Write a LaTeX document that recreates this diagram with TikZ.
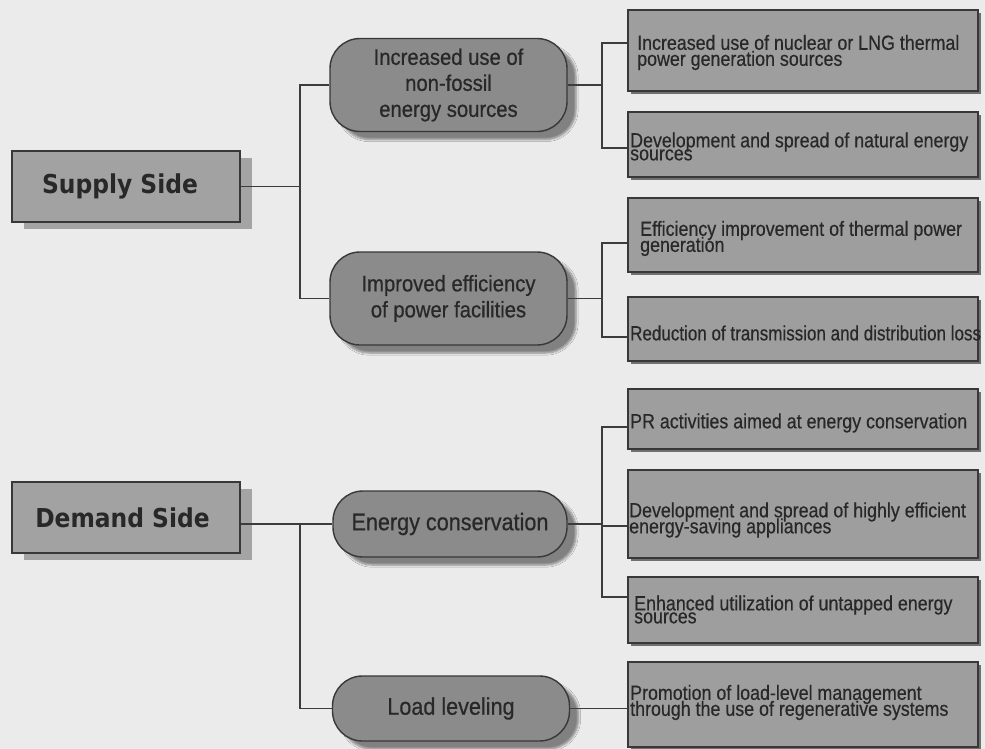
\documentclass[tikz,border=0pt]{standalone}
\usepackage{fontspec}
\setmainfont{Liberation Sans}
\newfontfamily\boxfont[FakeStretch=0.87,FakeBold=0.4]{Liberation Sans}
\newfontfamily\boxfontn[FakeStretch=0.83,FakeBold=0.4]{Liberation Sans}
\newfontfamily\pillfont[FakeStretch=0.9,FakeBold=0.6]{Liberation Sans}
\newfontfamily\headfont{DejaVu Sans Condensed}
\usetikzlibrary{shadows,shadows.blur}
% allow lines of multi-line labels to sit closer than their glyphs
\AtBeginDocument{\lineskiplimit=-100pt\relax}

\definecolor{bgc}{HTML}{EBEBEB}
\definecolor{boxfill}{HTML}{9E9E9E}
\definecolor{pillfill}{HTML}{8B8B8B}
\definecolor{sidefill}{HTML}{A2A2A2}
\definecolor{sideshadow}{HTML}{A4A4A4}
\definecolor{leafshadow}{HTML}{707070}
\definecolor{edgec}{HTML}{383838}
\definecolor{linec}{HTML}{3C3C3C}
\definecolor{textc}{HTML}{282828}

\begin{document}
\begin{tikzpicture}[x=1pt,y=-1pt,
  conn/.style={draw=linec, line width=1.3pt},
  sidebox/.style={draw=edgec, line width=1.4pt, fill=sidefill,
    minimum width=228pt, minimum height=71pt, inner sep=0pt, text=textc,
    font=\headfont\bfseries\fontsize{26}{30}\selectfont,
    drop shadow={shadow xshift=12pt, shadow yshift=-7pt, fill=sideshadow, opacity=1}},
  pill/.style={draw=edgec, line width=1.4pt, fill=pillfill, rounded corners=30pt,
    inner sep=0pt, align=center, text=textc,
    blur shadow={shadow xshift=9pt, shadow yshift=-8pt, shadow opacity=45, shadow blur steps=6}},
  leaf/.style={draw=edgec, line width=1.6pt, fill=boxfill, minimum width=350pt,
    inner sep=0pt,
    drop shadow={shadow xshift=3pt, shadow yshift=-3pt, fill=leafshadow, opacity=1}},
  leaftext/.style={anchor=west, inner sep=0pt, align=left, text=textc,
    font=\boxfont\fontsize{20.5}{16}\selectfont},
  tightleaf/.style={font=\boxfont\fontsize{20.5}{13}\selectfont},
  narrowleaf/.style={font=\boxfontn\fontsize{20.5}{16}\selectfont},
  pilltext/.style={font=\pillfont\fontsize{22.5}{26}\selectfont},
  pilltextb/.style={font=\pillfont\fontsize{24}{26}\selectfont},
]
% page and background
\useasboundingbox (0,0) rectangle (985,749);
\fill[bgc] (0,0) rectangle (985,749);

% top-level boxes
\node[sidebox] (sup) at (126,186.5) {Supply Side\hspace*{12pt}};
\node[sidebox] (dem) at (126,517.5) {Demand Side\hspace*{7pt}};

% measures (pills)
\node[pill, pilltext, minimum width=237pt, minimum height=93pt] (p1) at (448.5,85)
  {Increased use of\\non-fossil\\energy sources};
\node[pill, pilltext, minimum width=237pt, minimum height=93pt] (p2) at (448.5,298.5)
  {Improved efficiency\\of power facilities};
\node[pill, pilltextb, minimum width=234pt, minimum height=66pt] (p3) at (450,524)
  {Energy conservation};
\node[pill, pilltextb, minimum width=237pt, minimum height=65pt] (p4) at (451,708.5)
  {Load leveling};

% concrete actions (right column)
\node[leaf, minimum height=81pt] (b1) at (803,50.5) {};
\node[leaf, minimum height=65pt] (b2) at (803,144.5) {};
\node[leaf, minimum height=74pt] (b3) at (803,235) {};
\node[leaf, minimum height=64pt] (b4) at (803,329) {};
\node[leaf, minimum height=60pt] (b5) at (803,419) {};
\node[leaf, minimum height=88pt] (b6) at (803,514) {};
\node[leaf, minimum height=66pt] (b7) at (803,610) {};
\node[leaf, minimum height=85pt] (b8) at (803,704.5) {};

\node[leaftext] (t1) at (637,52.5) {Increased use of nuclear or LNG thermal\\power generation sources};
\node[leaftext, tightleaf] (t2) at (630,146.5) {Development and spread of natural energy\\sources};
\node[leaftext] (t3) at (640,238.5) {Efficiency improvement of thermal power\\generation};
\node[leaftext, narrowleaf] (t4) at (630,333) {Reduction of transmission and distribution loss};
\node[leaftext] (t5) at (630,423) {PR activities aimed at energy conservation};
\node[leaftext] (t6) at (629,520) {Development and spread of highly efficient\\energy-saving appliances};
\node[leaftext, tightleaf] (t7) at (634,609.5) {Enhanced utilization of untapped energy\\sources};
\node[leaftext] (t8) at (630,702.5) {Promotion of load-level management\\through the use of regenerative systems};

% junction points of the tree
\coordinate (js) at (300,186.5);
\coordinate (jd) at (300,524);
\coordinate (j1) at (602,85);
\coordinate (j2) at (602,298.5);
\coordinate (j3) at (602,524);

% supply side connectors
\draw[conn] (sup.east) -- (js);
\draw[conn] (js) |- (p1.west);
\draw[conn] (js) |- (p2.west);
\draw[conn] (p1.east) -- (j1);
\draw[conn] (j1) |- ([yshift=7.5pt]b1.west);
\draw[conn] (j1) |- ([yshift=-3.5pt]b2.west);
\draw[conn] (p2.east) -- (j2);
\draw[conn] (j2) |- ([yshift=-8pt]b3.west);
\draw[conn] (j2) |- ([yshift=-8pt]b4.west);

% demand side connectors
\draw[conn] (p3.west -| dem.east) -- (p3.west);
\draw[conn] (jd) |- (p4.west);
\draw[conn] (p3.east) -- (j3);
\draw[conn] (j3) |- ([yshift=-8pt]b5.west);
\draw[conn] (j3) |- ([yshift=-12pt]b6.west);
\draw[conn] (j3) |- ([yshift=13pt]b7.west);
\draw[conn] (p4.east) -- (p4.east -| b8.west);
\end{tikzpicture}
\end{document}
